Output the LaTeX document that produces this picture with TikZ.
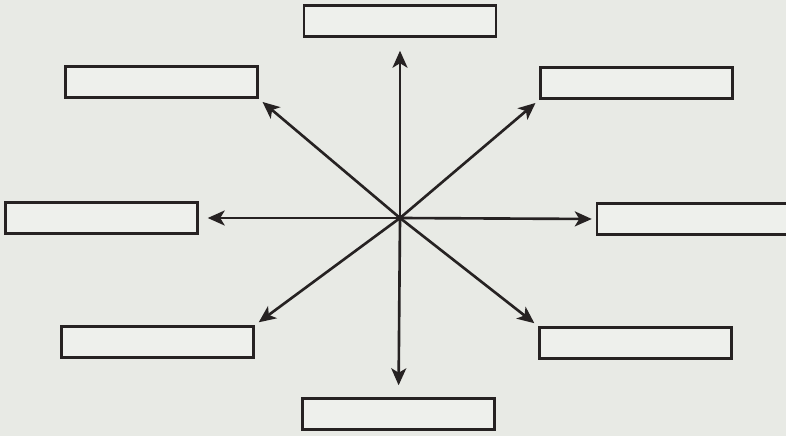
\documentclass[tikz,border=0pt]{standalone}
\usepackage{xcolor}
\usetikzlibrary{arrows.meta}

\definecolor{paper}{RGB}{232,234,229}
\definecolor{boxfill}{RGB}{238,240,236}
\definecolor{ink}{RGB}{38,34,34}

\begin{document}
\begin{tikzpicture}[
  x=0.02cm, y=-0.02cm,
  >={Stealth[length=3.4mm, width=3.0mm, inset=0.9mm]},
  blank/.style={draw=ink, line width=1.4pt, fill=boxfill,
                minimum width=3.84cm, minimum height=0.62cm, inner sep=0pt},
  spoke/.style={->, draw=ink, line width=1.5pt}
]

% ---------- page ----------
\fill[paper] (0,0) rectangle (786,436);
\useasboundingbox (0,0) rectangle (786,436);

% ---------- empty boxes ----------
\node[blank] (top)   at (400,21)  {};
\node[blank] (tleft) at (161.5,82) {};
\node[blank] (trght) at (636.5,83) {};
\node[blank] (left)  at (101.5,218) {};
\node[blank] (rght)  at (693,219) {};
\node[blank] (bleft) at (157.5,342) {};
\node[blank] (brght) at (635.5,343) {};
\node[blank] (bot)   at (398.5,414) {};

% ---------- spokes ----------
\coordinate (hub) at (400,218);

\draw[spoke, shorten >=2.6mm] (hub) -- (top.south);
\draw[spoke, shorten >=1.0mm] (hub) -- (tleft.south east);
\draw[spoke, shorten >=1.0mm] (hub) -- (trght.south west);
\draw[spoke, shorten >=1.8mm] (hub) -- (left.east);
\draw[spoke, shorten >=0.8mm] (hub) -- (rght.west);
\draw[spoke, shorten >=1.0mm] (hub) -- (bleft.north east);
\draw[spoke, shorten >=1.0mm] (hub) -- (brght.north west);
\draw[spoke, shorten >=2.4mm] (hub) -- (bot.north);

\end{tikzpicture}
\end{document}
